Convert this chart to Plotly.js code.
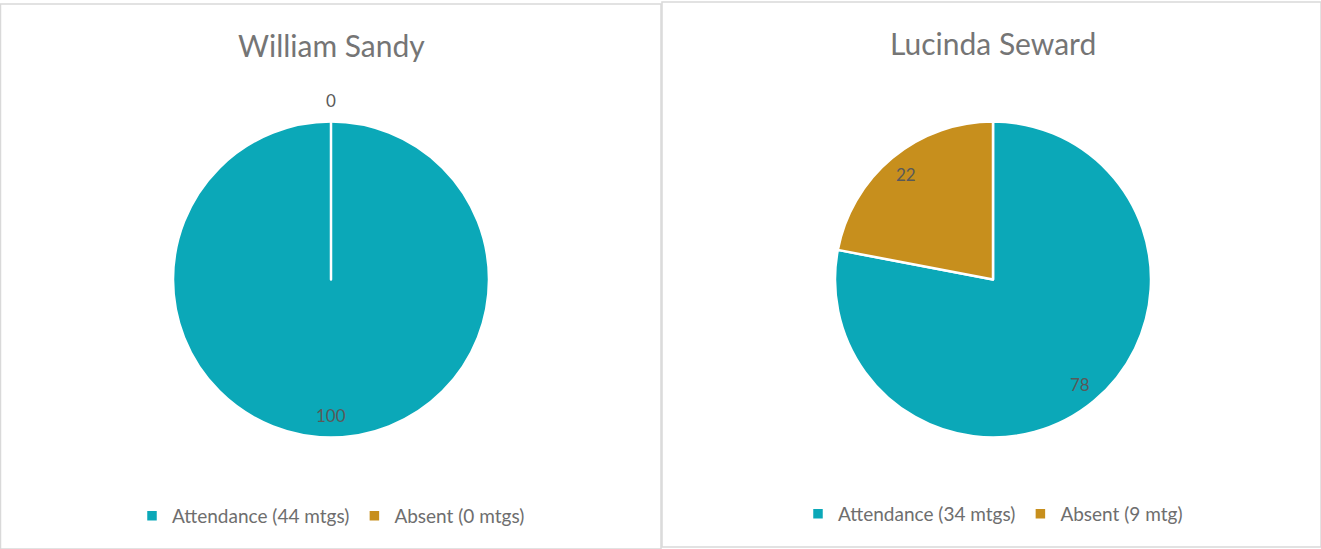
<!DOCTYPE html>
<html>
<head>
<meta charset="utf-8">
<script src="https://cdn.plot.ly/plotly-3.0.1.min.js"></script>
<style>
  html, body { margin: 0; padding: 0; background: #fff; }
  #chart { width: 1321px; height: 549px; }
</style>
</head>
<body>
<div id="chart"></div>
<script>
// Data
const people = ['William Sandy', 'Lucinda Seward'];
const labelsWilliam = ['Attendance (44 mtgs)', 'Absent (0 mtgs)'];
const labelsLucinda = ['Attendance (34 mtgs)', 'Absent (9 mtg)'];
const valuesWilliam = [100, 0];
const valuesLucinda = [78, 22];
const sliceColors = ['#0ba8b8', '#c78f1d'];

const W = 1321, H = 549;
const labelGray = '#595959';
const titleGray = '#757575';
const legendGray = '#6e6e6e';
const fontFam = 'Lato, "Open Sans", sans-serif';

// pie geometry (pixels)
const pies = [
    { cx: 331, cy: 279.5, r: 158, titleY: 45, legendY: 516 },
    { cx: 993, cy: 279.5, r: 158, titleY: 43, legendY: 514 }
];

const px = x => x / W;
const py = y => 1 - y / H;

function pieTrace(labels, values, p, legendName) {
    return {
        type: 'pie',
        labels: labels,
        values: values,
        sort: false,
        direction: 'clockwise',
        rotation: 0,
        textinfo: 'none',
        hoverinfo: 'label+value',
        marker: { colors: sliceColors, line: { color: '#ffffff', width: 2.5 } },
        domain: { x: [px(p.cx - p.r), px(p.cx + p.r)], y: [py(p.cy + p.r), py(p.cy - p.r)] },
        legend: legendName
    };
}

// data labels placed from the slice angles
function labelAnnotations(values, p) {
    const total = values.reduce((a, b) => a + b, 0);
    let cum = 0;
    return values.map(v => {
        const mid = (cum + v / 2) / total * 2 * Math.PI;
        cum += v;
        const rr = v > 0 ? 0.86 * p.r : 1.13 * p.r;
        return {
            xref: 'paper', yref: 'paper',
            x: px(p.cx + rr * Math.sin(mid)), y: py(p.cy - rr * Math.cos(mid)),
            text: String(v), showarrow: false,
            xanchor: 'center', yanchor: 'middle',
            font: { family: fontFam, size: 17, color: labelGray }
        };
    });
}

const titleAnn = people.map((name, i) => ({
    xref: 'paper', yref: 'paper',
    x: px(pies[i].cx), y: py(pies[i].titleY),
    text: name, showarrow: false, xanchor: 'center', yanchor: 'middle',
    font: { family: fontFam, size: 30, color: titleGray }
}));

const legendStyle = (p) => ({
    orientation: 'h',
    x: px(p.cx), xanchor: 'center',
    y: py(p.legendY), yanchor: 'middle',
    font: { family: fontFam, size: 19, color: legendGray },
    itemwidth: 30,
    bgcolor: 'rgba(0,0,0,0)'
});

const layout = {
    width: W, height: H,
    margin: { t: 0, b: 0, l: 0, r: 0 },
    paper_bgcolor: '#ffffff',
    font: { family: fontFam, color: legendGray },
    showlegend: true,
    legend: legendStyle(pies[0]),
    legend2: legendStyle(pies[1]),
    annotations: [
        ...titleAnn,
        ...labelAnnotations(valuesWilliam, pies[0]),
        ...labelAnnotations(valuesLucinda, pies[1])
    ],
    shapes: [
        { type: 'rect', xref: 'paper', yref: 'paper', x0: px(0.5), x1: px(661), y0: py(549), y1: py(4),
          line: { color: '#d9d9d9', width: 1.5 }, layer: 'below' },
        { type: 'rect', xref: 'paper', yref: 'paper', x0: px(662), x1: px(1321), y0: py(547), y1: py(2),
          line: { color: '#d9d9d9', width: 1.5 }, layer: 'below' }
    ]
};

Plotly.newPlot('chart', [
    pieTrace(labelsWilliam, valuesWilliam, pies[0], 'legend'),
    pieTrace(labelsLucinda, valuesLucinda, pies[1], 'legend2')
], layout, { displayModeBar: false, staticPlot: true });
</script>
</body>
</html>
